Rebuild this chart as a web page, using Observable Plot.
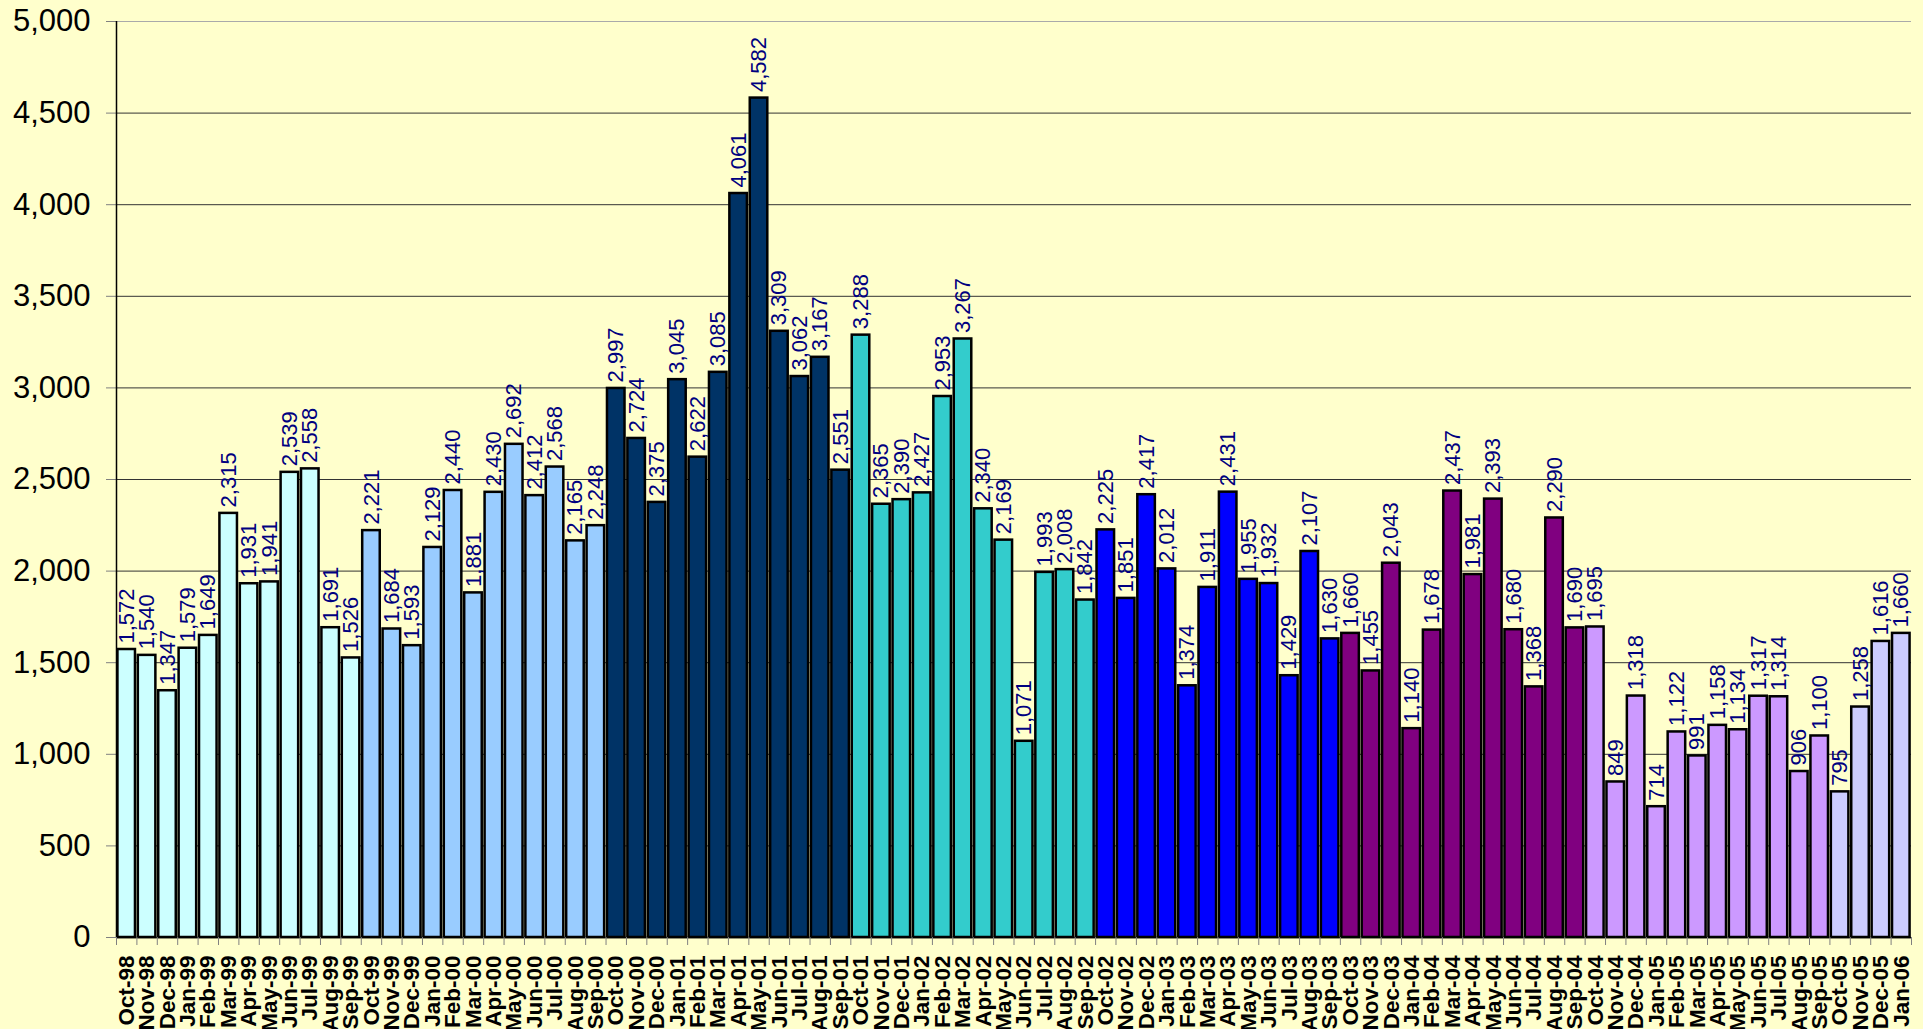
<!DOCTYPE html>
<html><head><meta charset="utf-8">
<script src="https://cdn.jsdelivr.net/npm/d3@7"></script>
<script src="https://cdn.jsdelivr.net/npm/@observablehq/plot@0.6"></script>
<style>html,body{margin:0;padding:0;background:#FFFFCC;overflow:hidden}</style>
</head><body><div id="chart"></div>
<script>
const months = ["Oct-98","Nov-98","Dec-98","Jan-99","Feb-99","Mar-99","Apr-99","May-99","Jun-99","Jul-99","Aug-99","Sep-99",
"Oct-99","Nov-99","Dec-99","Jan-00","Feb-00","Mar-00","Apr-00","May-00","Jun-00","Jul-00","Aug-00","Sep-00",
"Oct-00","Nov-00","Dec-00","Jan-01","Feb-01","Mar-01","Apr-01","May-01","Jun-01","Jul-01","Aug-01","Sep-01",
"Oct-01","Nov-01","Dec-01","Jan-02","Feb-02","Mar-02","Apr-02","May-02","Jun-02","Jul-02","Aug-02","Sep-02",
"Oct-02","Nov-02","Dec-02","Jan-03","Feb-03","Mar-03","Apr-03","May-03","Jun-03","Jul-03","Aug-03","Sep-03",
"Oct-03","Nov-03","Dec-03","Jan-04","Feb-04","Mar-04","Apr-04","May-04","Jun-04","Jul-04","Aug-04","Sep-04",
"Oct-04","Nov-04","Dec-04","Jan-05","Feb-05","Mar-05","Apr-05","May-05","Jun-05","Jul-05","Aug-05","Sep-05",
"Oct-05","Nov-05","Dec-05","Jan-06"];
const values = [1572,1540,1347,1579,1649,2315,1931,1941,2539,2558,1691,1526,
2221,1684,1593,2129,2440,1881,2430,2692,2412,2568,2165,2248,
2997,2724,2375,3045,2622,3085,4061,4582,3309,3062,3167,2551,
3288,2365,2390,2427,2953,3267,2340,2169,1071,1993,2008,1842,
2225,1851,2417,2012,1374,1911,2431,1955,1932,1429,2107,1630,
1660,1455,2043,1140,1678,2437,1981,2393,1680,1368,2290,1690,
1695,849,1318,714,1122,991,1158,1134,1317,1314,906,1100,
795,1258,1616,1660];
const fiscalYears = ["FY99","FY00","FY01","FY02","FY03","FY04","FY05","FY06"];
const fyColors = ["#CCFFFF","#99CCFF","#003366","#33CCCC","#0000FF","#800080","#CC99FF","#CCCCFF"];
const yTicks = [0,500,1000,1500,2000,2500,3000,3500,4000,4500,5000];

function fyOf(m) {
  const mon = m.slice(0,3), yr = +m.slice(4);
  const y = (["Oct","Nov","Dec"].includes(mon) ? yr + 1 : yr) % 100;
  return "FY" + String(y).padStart(2,"0");
}
const data = months.map((m,i)=>({i, month:m, value:values[i], fy: fyOf(m)}));
const fmt = d3.format(",");

const chart = Plot.plot({
  width:1923, height:1029, marginLeft:116, marginRight:12, marginTop:21, marginBottom:92,
  style:{background:"#FFFFCC", fontFamily:"'Liberation Sans', Arial, sans-serif", overflow:"visible"},
  x:{domain:[0, months.length], axis:null},
  y:{domain:[0,5000], axis:null, label:null},
  color:{domain:fiscalYears, range:fyColors},
  marks:[
    Plot.gridY({ticks: yTicks.slice(1, -1), stroke:"#333", strokeOpacity:1}),
    Plot.gridY({ticks: [5000], stroke:"#aaa", strokeOpacity:1}),
    Plot.rectY(data, {x1: d=>d.i+0.07, x2: d=>d.i+0.93, y: "value", fill:"fy", stroke:"#000", strokeWidth:2.5}),
    Plot.text(data, {x: d=>d.i+0.5, y:"value", text: d=>fmt(d.value), rotate:-90, textAnchor:"start", dy:-6, fill:"#000080", fontSize:22}),
    Plot.axisY({ticks:yTicks, tickSize:10, tickPadding:16, fontSize:31, stroke:"#808080", fill:"#000", tickFormat: fmt, label:null}),
    Plot.ruleX([0], {stroke:"#000", strokeWidth:1.5}),
    Plot.ruleY([0], {stroke:"#000", strokeWidth:1.5}),
    Plot.axisX({ticks: d3.range(0, months.length+1), tickSize:8, tickFormat:()=>"", stroke:"#808080", label:null}),
    Plot.axisX({ticks: data.map(d=>d.i+0.5), tickSize:0, tickPadding:18, tickRotate:-90, fontSize:22.5, fontWeight:"bold", fill:"#000", label:null, tickFormat: t => months[Math.floor(t)]})
  ]
});
document.getElementById("chart").appendChild(chart);
</script>
</body></html>
